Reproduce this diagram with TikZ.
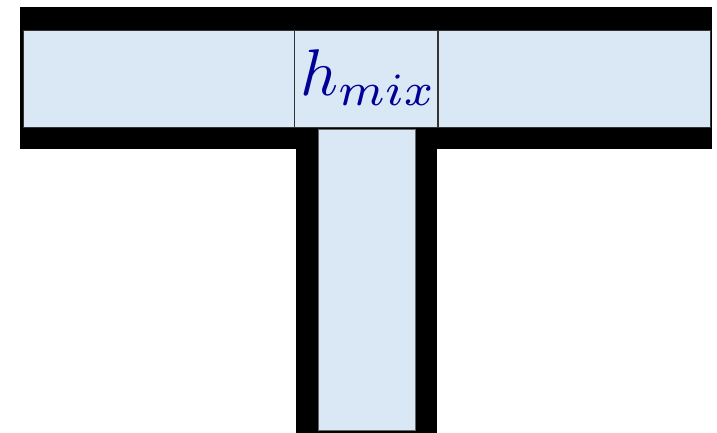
\documentclass[tikz,border=0pt]{standalone}
\usepackage{graphicx}
\definecolor{pipefill}{RGB}{218,232,245}
\definecolor{labelblue}{RGB}{0,0,150}
\begin{document}
\begin{tikzpicture}[x=1pt,y=-1pt,
  wall/.style={fill=black,draw=none},
  cell/.style={fill=pipefill,draw=black!80,line width=1.3pt},
  lbl/.style={text=labelblue,scale=6.6,inner sep=0pt}]
\useasboundingbox (0,0) rectangle (717,433);
% black walls
\fill[wall] (20.3,7.3) rectangle (712,149);
\fill[wall] (419,6.6) rectangle (436.5,8);
\fill[wall] (295.7,127) rectangle (437.3,433);
% horizontal pipe cells
\node[cell,minimum width=271.3pt,minimum height=97.3pt,anchor=north west,inner sep=0pt] (left) at (22.7,29.7) {};
\node[cell,minimum width=143.3pt,minimum height=97.3pt,anchor=north west,inner sep=0pt] (mix) at (294,29.7) {};
\node[cell,minimum width=272.4pt,minimum height=97.3pt,anchor=north west,inner sep=0pt] (right) at (437.3,29.7) {};
% vertical stem
\node[cell,line width=1pt,draw=black!60,minimum width=97.3pt,minimum height=300.7pt,anchor=north west,inner sep=0pt] (stem) at (317.7,129.3) {};
% label
\node[lbl] (h) at (368.5,78) {$h_{mix}$};
\end{tikzpicture}
\end{document}
